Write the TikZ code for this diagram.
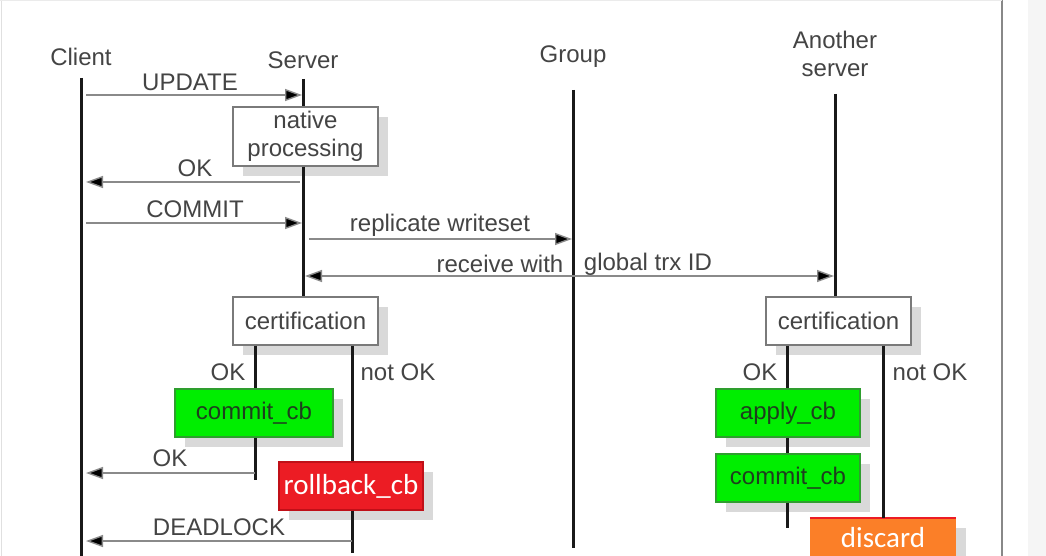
\documentclass[tikz,border=0pt]{standalone}
\usepackage{fontspec}
\setmainfont{Liberation Sans}
\newfontfamily\calfont{Carlito}
\usetikzlibrary{arrows.meta,shadows}
\definecolor{txt}{HTML}{444444}
\definecolor{msg}{HTML}{8A8A8A}
\definecolor{boxline}{HTML}{7A7A7A}
\definecolor{shd}{HTML}{D9D9D9}
\definecolor{gfill}{HTML}{00EE00}
\definecolor{gline}{HTML}{2E9E2E}
\definecolor{gtxt}{HTML}{1E3E1E}
\definecolor{rfill}{HTML}{EC1C24}
\definecolor{rline}{HTML}{C01018}
\definecolor{ofill}{HTML}{FB7F28}
\definecolor{frame}{HTML}{888888}
\definecolor{side}{HTML}{F5F5F5}
\begin{document}
\begin{tikzpicture}[x=1pt,y=-1pt,
  every node/.style={font=\fontsize{24}{28}\selectfont, text=txt, inner sep=0pt},
  life/.style={line width=3pt, draw=black!90},
  tip/.style={},
  message/.style={line width=1.4pt, draw=msg, -{Triangle[length=17pt,width=12pt,fill=black]}},
  both/.style={line width=1.4pt, draw=msg, {Triangle[length=17pt,width=12pt,fill=black]}-{Triangle[length=17pt,width=12pt,fill=black]}},
  shbox/.style={drop shadow={shadow xshift=10pt, shadow yshift=-10pt, fill=shd, opacity=1}},
  whitebox/.style={shbox, draw=boxline, line width=1.2pt, fill=white, minimum width=145pt, align=center},
  greenbox/.style={shbox, draw=gline, line width=1.2pt, fill=gfill, text=gtxt, minimum height=48pt},
  redbox/.style={shbox, draw=rline, line width=1.2pt, fill=rfill, text=white, font=\calfont\fontsize{29}{32}\selectfont, minimum width=144pt, minimum height=48pt},
  orangebox/.style={shbox, fill=ofill, text=white, font=\calfont\fontsize{29}{32}\selectfont, minimum width=146pt, minimum height=40pt}
]
\useasboundingbox (0,0) rectangle (1046,556);
\clip (0,0) rectangle (1046,556);
\fill[white] (0,0) rectangle (1046,556);
\fill[side] (1028,0) rectangle (1046,556);
\draw[frame, line width=2pt] (1002,0) -- (1002,556);
\draw[black!12, line width=1pt] (1,0) -- (1,556);
\draw[black!8, line width=1pt] (0,1) -- (1002,1);

% headers
\node (hclient) at (81,57) {Client};
\node (hserver) at (303,60) {Server};
\node (hgroup) at (573,57) {Group};
\node[align=center] (hanother) at (835,54) {Another\\server};

% boxes
\node[whitebox, minimum height=59pt] (native) at (305.5,136.5) {native\\processing};
\node[whitebox, minimum height=48pt] (cert1) at (305.5,321) {certification};
\node[whitebox, minimum height=48pt] (cert2) at (838.5,321) {certification};
\node[greenbox, minimum width=158pt] (commit1) at (254,413) {commit\_cb};
\node[redbox] (rollback) at (351,486) {rollback\_cb};
\node[greenbox, minimum width=144pt] (apply) at (788,413) {apply\_cb};
\node[greenbox, minimum width=144pt] (commit2) at (788,478) {commit\_cb};
\node[orangebox] (discard) at (883,538) {discard};
\draw[rfill, line width=2pt] (discard.north west) -- (discard.north east);

% lifeline coordinates
\coordinate (ctop) at (81,78);
\coordinate (cbot) at (81,556);
\coordinate (stop) at (303,79);
\coordinate (gtop) at (573,90);
\coordinate (gbot) at (573,548);
\coordinate (atop) at (835,94);
\coordinate (okend1) at (255,480);
\coordinate (nokend1) at (352,553);
\coordinate (okend2) at (787,528);
\coordinate (nokx2) at (883,0);

% lifelines
\draw[life] (ctop) -- (cbot);
\draw[life] (stop) -- (stop |- native.north);
\draw[life] (stop |- native.south) -- (stop |- cert1.north);
\draw[life] (gtop) -- (gbot);
\draw[life] (atop) -- (atop |- cert2.north);
\draw[life] (okend1 |- cert1.south) -- (okend1 |- commit1.north);
\draw[life] (okend1 |- commit1.south) -- (okend1);
\draw[life] (nokend1 |- cert1.south) -- (nokend1 |- rollback.north);
\draw[life] (nokend1 |- rollback.south) -- (nokend1);
\draw[life] (okend2 |- cert2.south) -- (okend2 |- apply.north);
\draw[life] (okend2 |- apply.south) -- (okend2 |- commit2.north);
\draw[life] (okend2 |- commit2.south) -- (okend2);
\draw[life] (nokx2 |- cert2.south) -- (nokx2 |- discard.north);

% message endpoints
\coordinate (u1) at (86,95);   \coordinate (u2) at (302,95);
\coordinate (o1) at (300,182); \coordinate (o2) at (86,182);
\coordinate (m1) at (86,223);  \coordinate (m2) at (302,223);
\coordinate (r1) at (309,239); \coordinate (r2) at (572,239);
\coordinate (g1) at (305,276); \coordinate (g2) at (834,276);
\coordinate (k1) at (255,473); \coordinate (k2) at (86,473);
\coordinate (d1) at (352,541); \coordinate (d2) at (86,541);

\draw[message] (u1) -- (u2);
\draw[message] (o1) -- (o2);
\draw[message] (m1) -- (m2);
\draw[message] (r1) -- (r2);
\draw[both] (g1) -- (g2);
\draw[message] (k1) -- (k2);
\draw[message] (d1) -- (d2);

% labels
\node (lupdate) at (190,82) {UPDATE};
\node (lok1) at (195,168) {OK};
\node (lcommit) at (195,209) {COMMIT};
\node (lrepl) at (440,225) {replicate writeset};
\node (lrecv) at (500,264) {receive with};
\node (lglob) at (648,264) {global trx ID};
\node (lok2) at (228,372) {OK};
\node (lnok1) at (398,372) {not OK};
\node (lok3) at (170,458) {OK};
\node (ldead) at (219,527) {DEADLOCK};
\node (lok4) at (760,372) {OK};
\node (lnok2) at (930,372) {not OK};
\end{tikzpicture}
\end{document}
